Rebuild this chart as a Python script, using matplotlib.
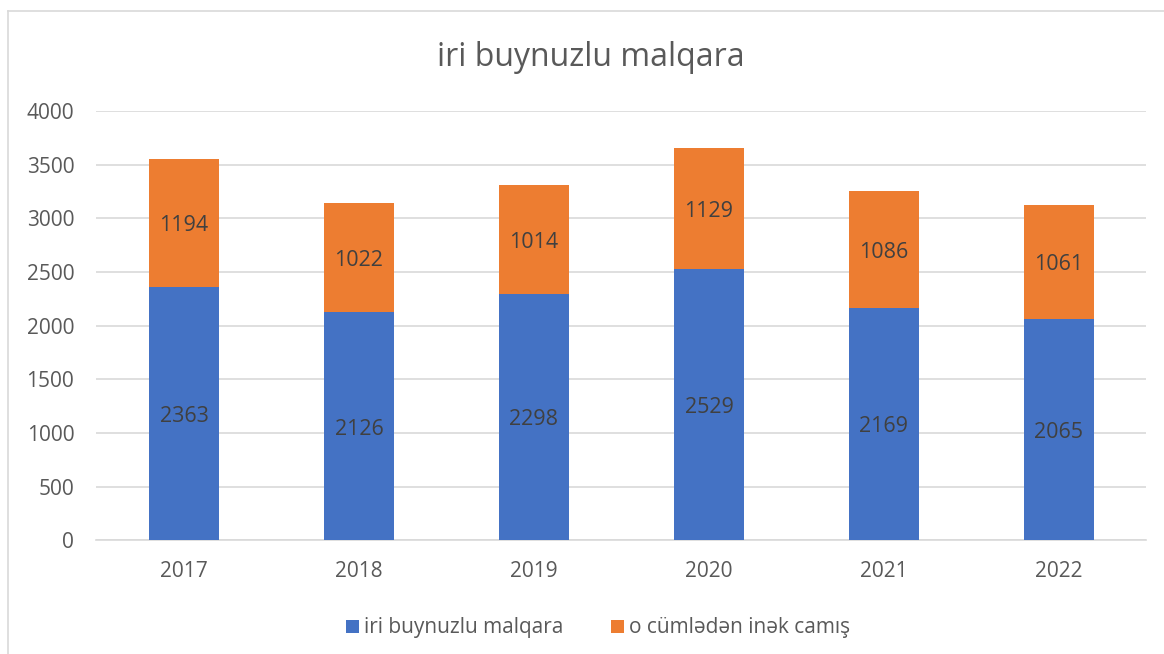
import matplotlib.pyplot as plt
from matplotlib.transforms import offset_copy

years = ["2017", "2018", "2019", "2020", "2021", "2022"]
iri = [2363, 2126, 2298, 2529, 2169, 2065]
inek = [1194, 1022, 1014, 1129, 1086, 1061]

blue = "#4472C4"
orange = "#ED7D31"
txt = "#595959"

plt.rcParams['font.family'] = ['Open Sans', 'DejaVu Sans']

fig = plt.figure(figsize=(11.64, 6.54), dpi=100)
ax = fig.add_axes([0.0829, 0.174, 0.902, 0.656])

# chart frame (light gray), only top and left visible
fig.add_artist(plt.Line2D([8/1164, 1], [1 - 11/654, 1 - 11/654], color="#D9D9D9", lw=1.2, transform=fig.transFigure))
fig.add_artist(plt.Line2D([8/1164, 8/1164], [0, 1 - 11/654], color="#D9D9D9", lw=1.2, transform=fig.transFigure))

x = list(range(len(years)))
b1 = ax.bar(x, iri, width=0.4, color=blue, label="iri buynuzlu malqara", zorder=3)
b2 = ax.bar(x, inek, width=0.4, bottom=iri, color=orange, label="o cümlədən inək camış", zorder=3)

# data labels, nudged down a few pixels
tr = offset_copy(ax.transData, fig=fig, x=0, y=-3, units="dots")
for i in x:
    ax.text(i, iri[i] / 2, str(iri[i]), ha="center", va="center", fontsize=15.5,
            color="#404040", zorder=4, transform=tr)
    ax.text(i, iri[i] + inek[i] / 2, str(inek[i]), ha="center", va="center", fontsize=15.5,
            color="#404040", zorder=4, transform=tr)

ax.set_xlim(-0.5, len(years) - 0.5)
ax.set_ylim(0, 4000)
ax.set_yticks(range(0, 4001, 500))
ax.set_xticks(x)
ax.set_xticklabels(years)
ax.grid(axis="y", color="#D9D9D9", lw=1.2, zorder=0)
for s in ["top", "right", "left"]:
    ax.spines[s].set_visible(False)
ax.spines["bottom"].set_color("#D9D9D9")
ax.spines["bottom"].set_linewidth(1.2)
ax.tick_params(axis="both", length=0, labelsize=15, labelcolor=txt)
ax.tick_params(axis="x", pad=15)
ax.tick_params(axis="y", pad=16)

fig.text(0.508, 1 - 58/654, "iri buynuzlu malqara", ha="center", va="center", fontsize=23, color=txt)

leg = fig.legend(handles=[b1, b2], loc="center", bbox_to_anchor=(0.514, 1 - 628/654), ncol=2,
                 frameon=False, fontsize=15, handlelength=0.6, handleheight=0.6, handletextpad=0.25,
                 columnspacing=2.3)
for t in leg.get_texts():
    t.set_color(txt)

fig.savefig("out.png", dpi=100)
